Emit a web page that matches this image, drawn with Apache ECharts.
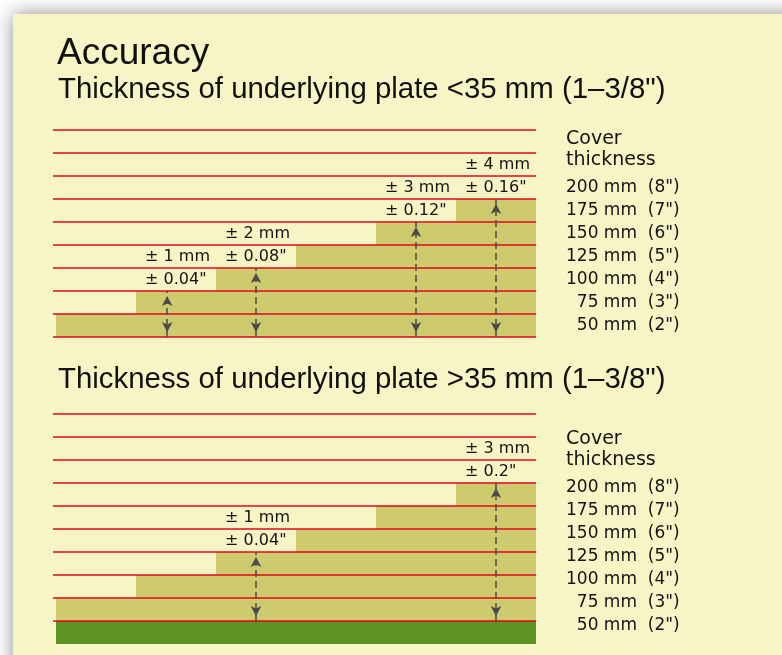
<!DOCTYPE html>
<html><head><meta charset="utf-8">
<script src="https://cdn.jsdelivr.net/npm/echarts@6/dist/echarts.min.js"></script>
<style>html,body{margin:0;padding:0;background:#fff}#c{width:782px;height:655px}</style>
</head><body><div id="c"></div>
<script>
// ---- data ----
const columns = ['c1', 'c2', 'c3', 'c4', 'c5', 'c6'];
const coverSteps1 = [1, 2, 3, 4, 5, 6];        // stacked cover rows per column, plate < 35 mm
const coverSteps2 = [1, 2, 3, 4, 5, 6];        // plate > 35 mm
const plate2 = [-1, -1, -1, -1, -1, -1];       // underlying plate (one row)
const coverMm = [50, 75, 100, 125, 150, 175, 200];
const coverIn = [2, 3, 4, 5, 6, 7, 8];
const tol1Cols = [1, 2, 4, 5];
const tol1Mm = [1, 2, 3, 4];
const tol1In = ['0.04', '0.08', '0.12', '0.16'];
const tol2Cols = [2, 5];
const tol2Mm = [1, 3];
const tol2In = ['0.04', '0.2'];

// ---- style ----
const FONT_S = 'DejaVu Sans';
const FONT_T = 'Liberation Sans';
const RED = '#e3061b';
const OLIVE = '#cdcb6d';
const GREEN = '#5e9322';
const PANEL = '#f7f4c5';
const TXT = '#141414';
const ARROW = '#4a4a4a';
const arrowShift1 = [-0.11, 0, 0, 0];

function coverLabel(i) {
  return String(coverMm[i]).padStart(3, '\u2007') + ' mm  (' + coverIn[i] + '")';
}

function tolSeries(xi, yi, steps, cols, mm, inch, shifts) {
  const data = [], lines = [];
  cols.forEach((c, i) => {
    data.push({ value: [c, steps[c] + 1.5], name: '± ' + mm[i] + ' mm' });
    data.push({ value: [c, steps[c] + 0.5], name: '± ' + inch[i] + '"' });
    const ax = c + 0.5 + (shifts ? shifts[i] : 0);
    lines.push([{ coord: [ax, 0] }, { coord: [ax, steps[c]] }]);
  });
  return {
    type: 'scatter', xAxisIndex: xi, yAxisIndex: yi, data: data, z: 6,
    symbolSize: 0.1, itemStyle: { color: 'rgba(0,0,0,0)', opacity: 1 }, silent: true,
    label: { show: true, position: 'right', distance: 9, formatter: p => p.name,
             color: TXT, opacity: 1, fontFamily: FONT_S, fontSize: 16 },
    markLine: {
      silent: true, symbol: ['arrow', 'arrow'], symbolSize: [8, 10],
      symbolOffset: [[0, 5], [0, 5]],
      label: { show: false },
      lineStyle: { color: ARROW, type: [7, 4], width: 1.5, opacity: 1 },
      data: lines
    }
  };
}

function lineAxisY(gi) {
  return { type: 'value', gridIndex: gi, min: 0, max: 9, interval: 1, z: 4,
    axisLine: { show: false }, axisTick: { show: false }, axisLabel: { show: false },
    splitLine: { show: true, lineStyle: { color: RED, width: 1.5 } } };
}
function hiddenX(gi, extra) {
  return Object.assign({ gridIndex: gi, show: false }, extra);
}
function labelAxisY(gi) {
  return { type: 'category', gridIndex: gi, position: 'right',
    data: coverMm.map((m, i) => coverLabel(i)),
    axisLine: { show: false }, axisTick: { show: false }, splitLine: { show: false },
    axisLabel: { interval: 0, margin: 30, color: TXT, fontFamily: FONT_S, fontSize: 17 } };
}
function barSeries(xi, yi, data, color, stack) {
  return { type: 'bar', xAxisIndex: xi, yAxisIndex: yi, data: data, stack: stack,
    barCategoryGap: 0, silent: true, z: 2, itemStyle: { color: color } };
}
const titleFont = (size) => ({ fontFamily: FONT_T, fontSize: size, fontWeight: 'normal', color: '#111' });
const headFont = { fontFamily: FONT_S, fontSize: 19, lineHeight: 21, fontWeight: 'normal', color: TXT };

const chart = echarts.init(document.getElementById('c'));
chart.setOption({
  animation: false,
  backgroundColor: '#ffffff',
  graphic: [{
    type: 'rect', z: -100, shape: { x: 13, y: 14, width: 800, height: 700 },
    style: { fill: PANEL, shadowBlur: 18, shadowColor: 'rgba(0,0,0,0.45)' }
  }],
  title: [
    { text: 'Accuracy', left: 57, top: 35, padding: 0, textStyle: titleFont(37) },
    { text: 'Thickness of underlying plate <35 mm (1–3/8")', left: 58, top: 75, padding: 0, textStyle: titleFont(29.4) },
    { text: 'Thickness of underlying plate >35 mm (1–3/8")', left: 58, top: 365, padding: 0, textStyle: titleFont(29.4) },
    { text: 'Cover\nthickness', left: 566, top: 129, padding: 0, textStyle: headFont },
    { text: 'Cover\nthickness', left: 566, top: 429, padding: 0, textStyle: headFont }
  ],
  grid: [
    { left: 53, top: 130, width: 483, height: 207 },   // 0 lines panel 1
    { left: 56, top: 130, width: 480, height: 207 },   // 1 bars panel 1
    { left: 53, top: 176, width: 483, height: 161 },   // 2 labels panel 1
    { left: 53, top: 414, width: 483, height: 207 },   // 3 lines panel 2
    { left: 56, top: 414, width: 480, height: 230 },   // 4 bars panel 2
    { left: 53, top: 476, width: 483, height: 161 }    // 5 labels panel 2
  ],
  xAxis: [
    hiddenX(0, { type: 'category', data: columns }),
    hiddenX(1, { type: 'category', data: columns }),
    hiddenX(1, { type: 'value', min: 0, max: 6 }),
    hiddenX(2, { type: 'value', min: 0, max: 1 }),
    hiddenX(3, { type: 'category', data: columns }),
    hiddenX(4, { type: 'category', data: columns }),
    hiddenX(4, { type: 'value', min: 0, max: 6 }),
    hiddenX(5, { type: 'value', min: 0, max: 1 })
  ],
  yAxis: [
    lineAxisY(0),
    { type: 'value', gridIndex: 1, min: 0, max: 9, show: false },
    labelAxisY(2),
    lineAxisY(3),
    { type: 'value', gridIndex: 4, min: -1, max: 9, show: false },
    labelAxisY(5)
  ],
  series: [
    barSeries(1, 1, coverSteps1, OLIVE),
    tolSeries(2, 1, coverSteps1, tol1Cols, tol1Mm, tol1In, arrowShift1),
    barSeries(5, 4, coverSteps2, OLIVE, 'p2'),
    barSeries(5, 4, plate2, GREEN, 'p2'),
    tolSeries(6, 4, coverSteps2, tol2Cols, tol2Mm, tol2In, null)
  ]
});
</script>
</body></html>
